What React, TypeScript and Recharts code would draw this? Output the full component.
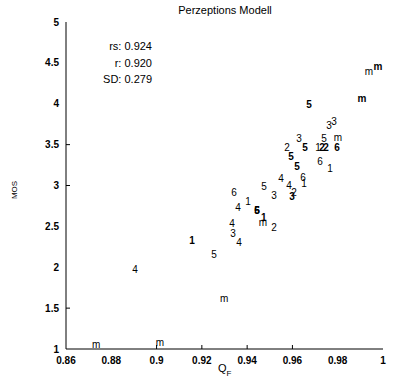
import React from 'react';
import { ScatterChart, Scatter, XAxis, YAxis } from 'recharts';

const pointLabels = ['m','m','m','4','5','1','3','4','4','m','1','2','5','6','4','1','6','5','3','3','2','4','4','6','1','1','6','5','5','2','3','5','5','1','2','2','6','m','3','3','5','m','m','m'];
const qpValues = [0.8733,0.9015,0.9298,0.8905,0.9254,0.9157,0.9338,0.9364,0.9333,0.947,0.9474,0.9519,0.9444,0.9444,0.936,0.9404,0.9342,0.9475,0.9519,0.9598,0.9607,0.955,0.9585,0.9647,0.9651,0.9766,0.9722,0.962,0.9594,0.9576,0.9629,0.9656,0.974,0.9713,0.9731,0.9748,0.9797,0.9801,0.9762,0.9784,0.9673,0.9907,0.9938,0.9978];
const mosValues = [1.05,1.08,1.62,1.97,2.15,2.33,2.41,2.3,2.54,2.55,2.61,2.49,2.7,2.7,2.725,2.8,2.91,2.99,2.88,2.86,2.91,3.09,3.0,3.1,3.02,3.21,3.29,3.23,3.35,3.46,3.57,3.47,3.57,3.47,3.47,3.47,3.47,3.59,3.73,3.78,3.99,4.06,4.39,4.45];
const boldFlags = [0,0,0,0,0,1,0,0,0,0,1,0,1,1,0,0,0,0,0,1,0,0,0,0,0,0,0,1,1,0,0,1,0,0,1,1,1,0,0,0,1,1,0,1];

const xTicks = [0.86, 0.88, 0.9, 0.92, 0.94, 0.96, 0.98, 1];
const yTicks = [1, 1.5, 2, 2.5, 3, 3.5, 4, 4.5, 5];
const xTickMarks = [0.9, 0.92, 0.94, 0.96];
const yTickMarks = [1.5, 3, 3.5];
const statLines = ['rs: 0.924', 'r: 0.920', 'SD: 0.279'];
const titleText = 'Perzeptions Modell';
const yLabel = 'MOS';
const xLabelMain = 'Q';
const xLabelSub = 'F';

const FONT = '"Liberation Sans", Arial, sans-serif';

const data = pointLabels.map((l, i) => ({ x: qpValues[i], y: mosValues[i], label: l, bold: boldFlags[i] === 1 }));

const LabelShape = (props: any) => {
  const { cx, cy, payload } = props;
  return (
    <text x={cx} y={cy} textAnchor="middle" dominantBaseline="central" fontSize={10}
      fontWeight={payload.bold ? 'bold' : 'normal'} fontFamily={FONT} fill="#000">
      {payload.label}
    </text>
  );
};

const BottomTick = (props: any) => {
  const { x, y, payload } = props;
  const v = payload.value;
  return (
    <g>
      {xTickMarks.includes(v) && <line x1={x} x2={x} y1={y} y2={y - 4} stroke="#000" />}
      <text x={x} y={y + 15} textAnchor="middle" fontSize={10} fontWeight="bold" fontFamily={FONT} fill="#000">{String(v)}</text>
    </g>
  );
};

const TopTick = (props: any) => {
  const { x, y, payload } = props;
  const v = payload.value;
  return <g>{xTickMarks.includes(v) && <line x1={x} x2={x} y1={y} y2={y + 4} stroke="#000" />}</g>;
};

const LeftTick = (props: any) => {
  const { x, y, payload } = props;
  const v = payload.value;
  return (
    <g>
      {yTickMarks.includes(v) && <line x1={x} x2={x + 4} y1={y} y2={y} stroke="#000" />}
      <text x={x - 7} y={y + 3.5} textAnchor="end" fontSize={10} fontWeight="bold" fontFamily={FONT} fill="#000">{String(v)}</text>
    </g>
  );
};

const RightTick = (props: any) => {
  const { x, y, payload } = props;
  const v = payload.value;
  return <g>{yTickMarks.includes(v) && <line x1={x} x2={x - 4} y1={y} y2={y} stroke="#000" />}</g>;
};

export default function App() {
  return (
    <div style={{ position: 'absolute', left: 0, top: 0, width: 399, height: 377, background: '#fff' }}>
      <ScatterChart width={399} height={377} margin={{ top: 22, right: 16, bottom: 8, left: 36 }}>
        <XAxis xAxisId="bottom" dataKey="x" type="number" domain={[0.86, 1]} ticks={xTicks} interval={0}
          allowDataOverflow height={20} tickSize={0} tickMargin={0} tick={BottomTick}
          axisLine={{ stroke: '#000' }} tickLine={false} />
        <XAxis xAxisId="top" orientation="top" dataKey="x" type="number" domain={[0.86, 1]} ticks={xTicks} interval={0}
          allowDataOverflow height={0} tickSize={0} tickMargin={0} tick={TopTick}
          axisLine={{ stroke: '#000' }} tickLine={false} />
        <YAxis yAxisId="left" dataKey="y" type="number" domain={[1, 5]} ticks={yTicks} interval={0}
          allowDataOverflow width={30} tickSize={0} tickMargin={0} tick={LeftTick}
          axisLine={{ stroke: '#000' }} tickLine={false} />
        <YAxis yAxisId="right" orientation="right" dataKey="y" type="number" domain={[1, 5]} ticks={yTicks} interval={0}
          allowDataOverflow width={0} tickSize={0} tickMargin={0} tick={RightTick}
          axisLine={{ stroke: '#000' }} tickLine={false} />
        <Scatter data={data} xAxisId="bottom" yAxisId="left" shape={LabelShape} isAnimationActive={false} />
      </ScatterChart>
      <svg width={399} height={377} style={{ position: 'absolute', left: 0, top: 0, pointerEvents: 'none' }}>
        <text x={225} y={14} textAnchor="middle" fontSize={11} fontFamily={FONT} fill="#000">{titleText}</text>
        {statLines.map((s, i) => (
          <text key={s} x={152} y={50 + i * 16.5} textAnchor="end" fontSize={11} fontFamily={FONT} fill="#000">{s}</text>
        ))}
        <text transform="translate(17,190) rotate(-90)" textAnchor="middle" fontSize={8} fontFamily={FONT} fill="#000">{yLabel}</text>
        <text x={218} y={372} fontSize={11} fontFamily={FONT} fill="#000">{xLabelMain}
          <tspan fontSize={8} dy={4}>{xLabelSub}</tspan>
        </text>
      </svg>
    </div>
  );
}
